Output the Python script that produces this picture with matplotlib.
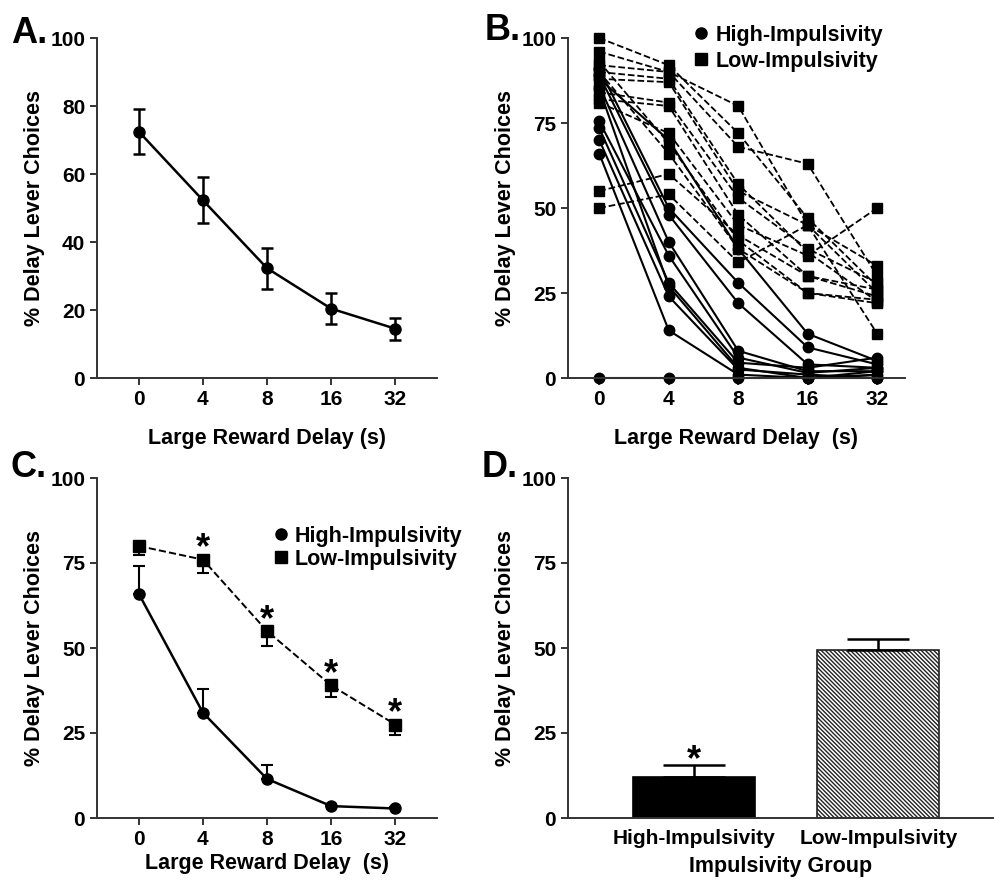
import numpy as np
import matplotlib
matplotlib.use("Agg")
import matplotlib.pyplot as plt
from matplotlib.lines import Line2D

plt.rcParams['font.family'] = ['Liberation Sans', 'DejaVu Sans']
plt.rcParams['font.weight'] = 'bold'
plt.rcParams['hatch.linewidth'] = 1.0

delays = ["0", "4", "8", "16", "32"]

# panel A: all rats
all_mean = [72.5, 52.3, 32.3, 20.4, 14.5]
all_sem = [6.7, 6.7, 6.0, 4.6, 3.2]

# panel B: individual rats
high_rats = [
    [0, 0, 0, 0, 0],
    [88, 70, 38, 13, 5],
    [91, 50, 28, 9, 4],
    [89, 48, 22, 4, 3],
    [86, 40, 8, 2, 2],
    [75.5, 36, 6, 1.5, 3],
    [73.5, 28, 4.5, 3, 6],
    [70, 24, 2.5, 1, 0],
    [66, 14, 1, 0, 2],
    [85, 27, 3, 0, 1],
]
low_rats = [
    [100, 92, 72, 47, 27],
    [96, 90, 80, 45, 25],
    [92, 90, 68, 63, 30],
    [90, 88, 57, 37, 22.5],
    [88, 87, 55, 45, 33],
    [84, 81, 53, 38, 28],
    [82, 80, 48, 30, 26],
    [81, 72, 45, 36, 50],
    [55, 60, 42, 30, 24],
    [50, 54, 34, 45, 13],
    [93, 69, 40.5, 25, 22],
    [90, 66, 38, 25, 23],
]

# panel C: group means
high_mean = [66, 31, 11.5, 3.5, 2.8]
high_sem = [8, 7, 4, 0.5, 0.3]
low_mean = [80, 76, 55, 39, 27.5]
low_sem = [2.5, 4, 4.5, 3.5, 3]

# panel D: overall
groups = ["High-Impulsivity", "Low-Impulsivity"]
group_mean = [12, 49.5]
group_sem = [3.5, 3.2]

W, H = 994, 884
FS = 15.5
fig = plt.figure(figsize=(W / 100, H / 100), dpi=100)


def px_axes(x0, y0, x1, y1):
    return fig.add_axes([x0 / W, 1 - y1 / H, (x1 - x0) / W, (y1 - y0) / H])


def style(ax, yticks):
    for s in ["top", "right"]:
        ax.spines[s].set_visible(False)
    for s in ["left", "bottom"]:
        ax.spines[s].set_linewidth(1.4)
        ax.spines[s].set_color("#333333")
    ax.set_ylim(0, 100)
    ax.set_yticks(yticks)
    ax.tick_params(axis="both", labelsize=15, width=1.4, length=5, color="#333333")
    ax.set_ylabel("% Delay Lever Choices", fontsize=FS, fontweight="bold")
    for lab in ax.get_xticklabels() + ax.get_yticklabels():
        lab.set_fontweight("bold")


def letter(x, y, s):
    fig.text(x / W, 1 - y / H, s, fontsize=26, fontweight="bold", va="baseline")


x = np.arange(len(delays))
legend_handles = [Line2D([], [], color="black", marker="o", ls="none", ms=8),
                  Line2D([], [], color="black", marker="s", ls="none", ms=8)]

# A
axA = px_axes(97, 38, 437, 378)
axA.errorbar(x, all_mean, yerr=all_sem, color="black", marker="o", ms=8, lw=1.8,
             capsize=4.5, capthick=1.8, elinewidth=1.8)
axA.set_xlim(-0.65, 4.65)
axA.set_xticks(x)
axA.set_xticklabels(delays)
style(axA, [0, 20, 40, 60, 80, 100])
axA.set_xlabel("Large Reward Delay (s)", fontsize=FS, fontweight="bold", labelpad=14)
letter(11, 43, "A.")

# B
axB = px_axes(568, 38, 905, 378)
for r in low_rats:
    axB.plot(x, r, color="black", ls="--", lw=1.3, marker="s", ms=7.5, clip_on=False)
for r in high_rats:
    axB.plot(x, r, color="black", ls="-", lw=1.5, marker="o", ms=7.5, clip_on=False)
axB.set_xlim(-0.45, 4.4)
axB.set_xticks(x)
axB.set_xticklabels(delays)
style(axB, [0, 25, 50, 75, 100])
axB.set_xlabel("Large Reward Delay  (s)", fontsize=FS, fontweight="bold", labelpad=14)
axB.legend(legend_handles, groups, loc="upper right", bbox_to_anchor=(0.96, 1.065),
           frameon=False, fontsize=FS, handletextpad=0.05, labelspacing=0.25,
           borderaxespad=0, handlelength=1.2)
letter(485, 40, "B.")

# C
axC = px_axes(97, 478, 437, 818)
axC.errorbar(x, high_mean, yerr=[np.zeros(5), high_sem], color="black", marker="o", ms=8,
             lw=1.8, capsize=4.5, capthick=1.5, elinewidth=1.5)
axC.errorbar(x, low_mean, yerr=[low_sem, np.zeros(5)], color="black", marker="s", ms=8,
             lw=1.4, ls="--", capsize=4.5, capthick=1.5, elinewidth=1.5)
for i in range(1, 5):
    axC.text(x[i], low_mean[i] - 2, "*", ha="center", va="bottom", fontsize=26,
             fontweight="bold")
axC.set_xlim(-0.65, 4.65)
axC.set_xticks(x)
axC.set_xticklabels(delays)
style(axC, [0, 25, 50, 75, 100])
axC.set_xlabel("Large Reward Delay  (s)", fontsize=FS, fontweight="bold", labelpad=3)
axC.legend(legend_handles, groups, loc="upper right", bbox_to_anchor=(1.1, 0.885),
           frameon=False, fontsize=FS, handletextpad=0.05, labelspacing=0.1,
           borderaxespad=0, handlelength=1.2)
letter(11, 477, "C.")

# D
axD = px_axes(568, 478, 993, 818)
xd = np.arange(len(groups))
axD.bar(xd[0], group_mean[0], width=0.66, color="black", edgecolor="black", lw=1.2)
axD.bar(xd[1], group_mean[1], width=0.66, color="white", edgecolor="#222222",
        hatch="\\\\\\\\\\\\\\\\", lw=1.2)
axD.errorbar(xd, group_mean, yerr=[np.zeros(2), group_sem], fmt="none", ecolor="black",
             capsize=22, capthick=1.8, elinewidth=1.8)
axD.text(xd[0], group_mean[0] + group_sem[0] - 3.7, "*", ha="center", va="bottom",
         fontsize=26, fontweight="bold")
axD.set_xlim(-0.68, 1.62)
axD.set_xticks(xd)
axD.set_xticklabels(groups)
style(axD, [0, 25, 50, 75, 100])
axD.tick_params(axis="x", length=0, pad=8)
axD.set_xlabel("Impulsivity Group", fontsize=FS, fontweight="bold", labelpad=6)
letter(482, 477, "D.")

fig.savefig("out.png", dpi=100)
